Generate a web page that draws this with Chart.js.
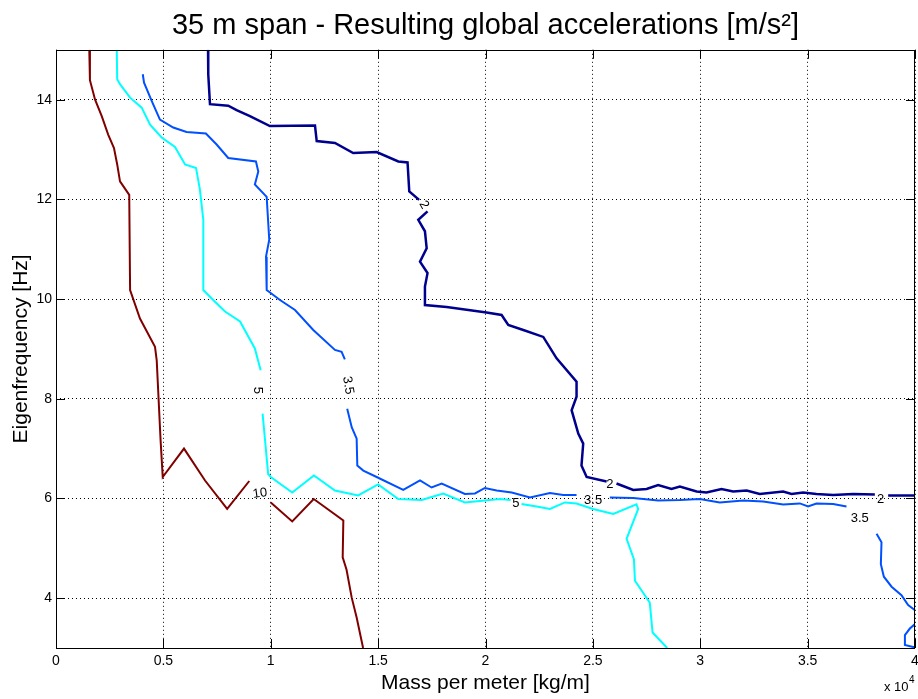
<!DOCTYPE html>
<html>
<head>
<meta charset="utf-8">
<script src="https://cdn.jsdelivr.net/npm/chart.js@4.4.1/dist/chart.umd.min.js"></script>
<style>
html,body{margin:0;padding:0;background:#fff;}
#wrap{width:918px;height:699px;}
</style>
</head>
<body>
<div id="wrap"><canvas id="c" width="918" height="699"></canvas></div>
<script>
// ---------- Data (x: mass per meter [kg/m], y: eigenfrequency [Hz]) ----------
const xTickValues = [0, 5000, 10000, 15000, 20000, 25000, 30000, 35000, 40000];
const xTickLabels = ['0', '0.5', '1', '1.5', '2', '2.5', '3', '3.5', '4'];
const yTickValues = [4, 6, 8, 10, 12, 14];
const yTickLabels = ['4', '6', '8', '10', '12', '14'];

// contour level 10 m/s^2
const level10_seg1 = [[1550,15.0],[1580,14.39],[1820,14.0],[2130,13.67],[2430,13.30],[2700,13.03],[2850,12.70],[2980,12.36],[3410,12.09],[3450,10.18],[3910,9.61],[4610,9.04],[4690,8.77],[4870,7.17],[4970,6.43],[5960,7.00],[6940,6.36],[7970,5.79],[9000,6.35]];
const level10_seg2 = [[10000,5.92],[11000,5.54],[12000,5.99],[13380,5.56],[13350,4.82],[13530,4.57],[13770,4.01],[14000,3.61],[14300,3.0]];

// contour level 5 m/s^2
const level5_seg1 = [[2830,15.0],[2850,14.41],[2980,14.31],[3450,14.04],[3990,13.84],[4380,13.50],[4920,13.24],[5540,13.05],[6010,12.70],[6520,12.63],[6700,12.20],[6860,11.59],[6860,10.18],[7320,9.98],[7870,9.75],[8570,9.55],[9260,9.01],[9530,8.57]];
const level5_seg2 = [[9620,7.70],[9880,6.49],[10000,6.43],[11000,6.12],[12010,6.46],[12990,6.16],[14070,6.06],[15000,6.28],[15940,5.99],[17030,5.97],[18030,6.10],[19040,5.92],[19970,5.96],[20670,5.99],[21170,5.97]];
const level5_seg3 = [[21680,5.89],[22380,5.84],[23000,5.79],[23700,5.92],[24240,5.90],[25010,5.79],[25950,5.69],[27030,5.88],[27110,5.79],[26570,5.19],[26910,4.78],[26960,4.35],[27650,3.91],[27780,3.31],[28460,3.0]];

// contour level 3.5 m/s^2
const level35_seg1 = [[4040,14.51],[4100,14.34],[4460,13.97],[4840,13.60],[5460,13.44],[6080,13.35],[6980,13.32],[7480,13.10],[8020,12.83],[9310,12.76],[9420,12.56],[9260,12.30],[9810,12.05],[9930,11.19],[9780,10.85],[9810,10.18],[10430,9.98],[11130,9.78],[11980,9.38],[12990,8.98],[13300,8.94],[13450,8.79]];
const level35_seg2 = [[13560,7.80],[13770,7.43],[14000,7.20],[14030,6.66],[14310,6.56],[14930,6.43],[16170,6.17],[16950,6.36],[17490,6.22],[17960,6.30],[19040,6.09],[19510,6.10],[19970,6.21],[20520,6.16],[21220,6.12],[22070,6.02],[23000,6.11],[23620,6.07],[24240,6.07]];
const level35_seg3 = [[25790,6.02],[26880,6.01],[28040,5.96],[29050,5.97],[29980,5.99],[30910,5.92],[32000,5.96],[32930,5.94],[33860,5.88],[34640,5.90],[35020,5.84],[35410,5.90],[36190,5.89],[36810,5.84]];
const level35_seg4 = [[38210,5.29],[38440,5.12],[38410,4.68],[38550,4.43],[38910,4.23],[39370,4.06],[39680,3.86],[40000,3.76]];
const level35_seg5 = [[40000,3.48],[39760,3.39],[39530,3.26],[39530,3.06],[39910,3.02],[40000,3.02]];

// contour level 2 m/s^2
const level2_seg1 = [[7080,15.0],[7090,14.51],[7170,13.91],[8020,13.88],[8410,13.79],[9030,13.67],[9960,13.47],[12060,13.48],[12140,13.17],[12990,13.13],[13840,12.93],[14930,12.95],[15940,12.76],[16370,12.74],[16450,12.16],[16910,11.99]];
const level2_seg2 = [[17300,11.76],[16870,11.59],[17180,11.36],[17260,11.02],[16950,10.75],[17300,10.52],[17180,10.25],[17180,9.88],[18190,9.84],[20050,9.73],[20750,9.68],[21060,9.48],[21760,9.38],[22690,9.24],[23310,8.81],[24240,8.34],[24240,8.04],[24010,7.77],[24320,7.30],[24550,7.10],[24470,6.66],[24710,6.43],[25640,6.34]];
const level2_seg3 = [[26100,6.30],[26880,6.17],[27500,6.19],[28040,6.27],[28660,6.19],[29050,6.24],[29830,6.14],[30290,6.12],[30990,6.19],[31530,6.14],[32160,6.16],[32770,6.09],[33860,6.14],[34250,6.09],[34790,6.12],[35410,6.09],[36190,6.07],[37120,6.09],[38130,6.08]];
const level2_seg4 = [[38750,6.06],[40000,6.06]];

// contour labels (text, x, y in data units)
const labelTexts = ['2', '2', '2', '3.5', '3.5', '3.5', '5', '5', '10'];
const labelX = [17130, 25790, 38400, 13600, 25010, 37430, 9400, 21415, 9500];
const labelY = [11.89, 6.28, 5.99, 8.27, 5.96, 5.59, 8.17, 5.90, 6.10];
const labelAngle = [60, 0, 0, 80, 0, 0, 90, 0, -8];

// ---------- Chart ----------
const FONT = "'Liberation Sans', Arial, Helvetica, sans-serif";
const C2 = '#00008F', C35 = '#0050FF', C5 = '#00FFFF', C10 = '#800000';

function seg(name, pts, color, w) {
  return {
    label: name,
    data: pts.map(p => ({x: p[0], y: p[1]})),
    borderColor: color,
    backgroundColor: color,
    borderWidth: w,
    showLine: true,
    pointRadius: 0,
    pointHoverRadius: 0,
    fill: false,
    tension: 0
  };
}

const datasets = [
  seg('10 m/s² (a)', level10_seg1, C10, 2),
  seg('10 m/s² (b)', level10_seg2, C10, 2),
  seg('5 m/s² (a)', level5_seg1, C5, 2),
  seg('5 m/s² (b)', level5_seg2, C5, 2),
  seg('5 m/s² (c)', level5_seg3, C5, 2),
  seg('3.5 m/s² (a)', level35_seg1, C35, 2),
  seg('3.5 m/s² (b)', level35_seg2, C35, 2),
  seg('3.5 m/s² (c)', level35_seg3, C35, 2),
  seg('3.5 m/s² (d)', level35_seg4, C35, 2),
  seg('3.5 m/s² (e)', level35_seg5, C35, 2),
  seg('2 m/s² (a)', level2_seg1, C2, 2.5),
  seg('2 m/s² (b)', level2_seg2, C2, 2.5),
  seg('2 m/s² (c)', level2_seg3, C2, 2.5),
  seg('2 m/s² (d)', level2_seg4, C2, 2.5)
];

const overlay = {
  id: 'overlay',
  afterDatasetsDraw(chart) {
    const {ctx, scales: {x, y}} = chart;
    ctx.save();
    ctx.fillStyle = '#000';
    ctx.font = '13px ' + FONT;
    ctx.textAlign = 'center';
    ctx.textBaseline = 'middle';
    labelTexts.forEach((t, i) => {
      const px = x.getPixelForValue(labelX[i]);
      const py = y.getPixelForValue(labelY[i]);
      ctx.save();
      ctx.translate(px, py);
      ctx.rotate(labelAngle[i] * Math.PI / 180);
      ctx.fillText(t, 0, 0);
      ctx.restore();
    });
    ctx.restore();
  },
  afterDraw(chart) {
    const {ctx, chartArea: a, scales: {x, y}} = chart;
    ctx.save();
    ctx.strokeStyle = '#000';
    ctx.lineWidth = 1;
    ctx.beginPath();
    xTickValues.forEach(v => {
      const px = Math.round(x.getPixelForValue(v)) + 0.5;
      ctx.moveTo(px, a.bottom); ctx.lineTo(px, a.bottom - 9);
      ctx.moveTo(px, a.top); ctx.lineTo(px, a.top + 9);
    });
    yTickValues.forEach(v => {
      const py = Math.round(y.getPixelForValue(v)) + 0.5;
      ctx.moveTo(a.left, py); ctx.lineTo(a.left + 9, py);
      ctx.moveTo(a.right, py); ctx.lineTo(a.right - 9, py);
    });
    ctx.stroke();
    ctx.strokeRect(Math.round(a.left) + 0.5, Math.round(a.top) + 0.5,
                   Math.round(a.right - a.left) - 1, Math.round(a.bottom - a.top));
    // exponent note
    ctx.fillStyle = '#000';
    ctx.textAlign = 'left';
    ctx.textBaseline = 'alphabetic';
    ctx.font = '13px ' + FONT;
    ctx.fillText('x 10', a.right - 31, a.bottom + 43);
    ctx.font = '10px ' + FONT;
    ctx.fillText('4', a.right - 6, a.bottom + 35);
    ctx.restore();
  }
};

Chart.defaults.font.family = FONT;
Chart.defaults.color = '#000';

new Chart(document.getElementById('c').getContext('2d'), {
  type: 'scatter',
  data: {datasets},
  options: {
    responsive: false,
    animation: false,
    devicePixelRatio: 1,
    layout: {padding: {top: 0, right: 3, bottom: 0, left: 0}},
    plugins: {
      legend: {display: false},
      tooltip: {enabled: false},
      title: {
        display: true,
        text: '35 m span - Resulting global accelerations [m/s²]',
        fullSize: false,
        color: '#000',
        font: {family: FONT, size: 29, weight: 'normal'},
        padding: {top: 9, bottom: 6}
      }
    },
    scales: {
      x: {
        type: 'linear',
        min: 0, max: 40000,
        afterBuildTicks: s => { s.ticks = xTickValues.map(v => ({value: v})); },
        afterFit: s => { s.height = 51; s.paddingLeft = 0; s.paddingRight = 0; },
        ticks: {
          autoSkip: false, maxRotation: 0, padding: 5, color: '#000',
          font: {family: FONT, size: 14},
          callback: v => xTickLabels[xTickValues.indexOf(v)]
        },
        grid: {color: '#000', lineWidth: 1, drawTicks: false},
        border: {display: false, dash: [1, 3]},
        title: {
          display: true, text: 'Mass per meter [kg/m]', color: '#000',
          font: {family: FONT, size: 21}, padding: {top: 0, bottom: 3}
        }
      },
      y: {
        type: 'linear',
        min: 3, max: 15,
        afterBuildTicks: s => { s.ticks = yTickValues.map(v => ({value: v})); },
        afterFit: s => { s.width = 56; s.paddingTop = 0; s.paddingBottom = 0; },
        ticks: {
          autoSkip: false, padding: 4, color: '#000',
          font: {family: FONT, size: 14},
          callback: v => yTickLabels[yTickValues.indexOf(v)]
        },
        grid: {color: '#000', lineWidth: 1, drawTicks: false},
        border: {display: false, dash: [1, 3]},
        title: {
          display: true, text: 'Eigenfrequency [Hz]', color: '#000',
          font: {family: FONT, size: 21}, padding: {top: 9, bottom: 0}
        }
      }
    }
  },
  plugins: [overlay]
});
</script>
</body>
</html>
